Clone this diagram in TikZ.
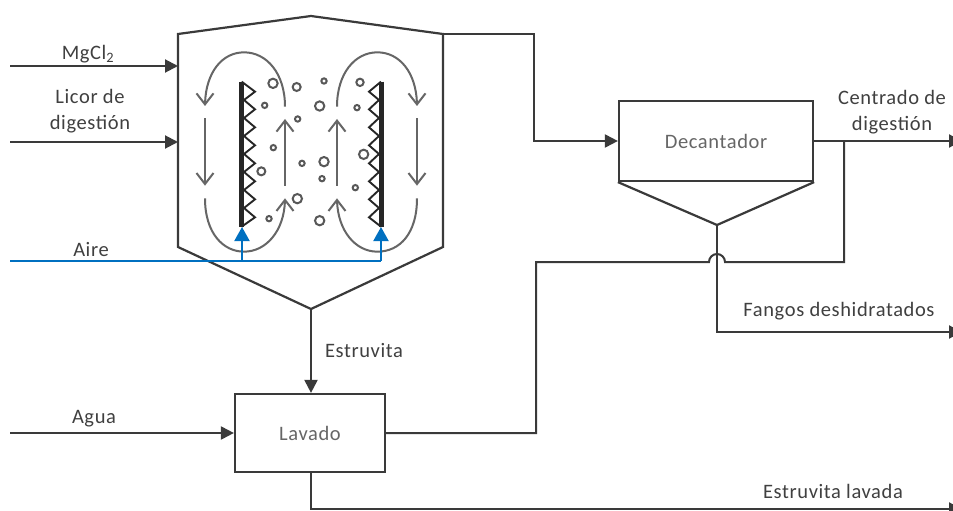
\documentclass[tikz,border=0pt]{standalone}
\usepackage{fontspec}
\setmainfont{Carlito}[LetterSpace=3]
\usetikzlibrary{arrows.meta,calc,bending}
\definecolor{ln}{HTML}{3A3A3A}
\definecolor{gy}{HTML}{666666}
\definecolor{tx}{HTML}{404040}
\definecolor{tb}{HTML}{666666}
\definecolor{bl}{HTML}{0070C0}
\tikzset{
  flow/.style={draw=ln,line width=2pt,-{Triangle[length=13pt,width=13pt,fill=ln]}},
  pipe/.style={draw=ln,line width=2pt},
  air/.style={draw=bl,line width=2pt},
  airflow/.style={air,-{Triangle[length=14pt,width=15pt,fill=bl]}},
  vessel/.style={draw=ln,line width=2.2pt,line join=miter},
  unitbox/.style={draw=ln,line width=2.2pt,minimum width=0pt,inner sep=0pt,rectangle,text=tb,font=\fontsize{20.5}{24}\selectfont},
  lbl/.style={text=tx,inner sep=0pt,align=center,font=\fontsize{20.5}{25}\selectfont},
  lbltall/.style={lbl,font=\fontsize{20.5}{26.5}\selectfont},
  loop/.style={draw=gy,line width=2pt,-{Straight Barb[length=11pt,width=17pt,line width=2pt,flex=0]}},
  bub/.style={draw=ln!85,line width=2pt,fill=none},
  plate/.style={draw=black!85,line width=5pt},
  zig/.style={draw=black!85,line width=1.9pt,line join=miter},
}
\begin{document}
\begin{tikzpicture}[x=1pt,y=-1pt]
\useasboundingbox (0,0) rectangle (953,511);
\clip (0,0) rectangle (953,511);
\fill[white] (0,0) rectangle (953,511);
% anchors
\coordinate (mgIn) at (10,66);   \coordinate (mgOut) at (178,66);
\coordinate (liIn) at (10,142);  \coordinate (liOut) at (178,142);
\coordinate (aiIn) at (10,261);  \coordinate (aiL) at (242,261); \coordinate (aiR) at (381,261);
\coordinate (plL) at (242,227);  \coordinate (plR) at (381,227);
\coordinate (reTop) at (443,34); \coordinate (reBot) at (311,309);
\coordinate (agIn) at (10,433);
\coordinate (ceOut) at (962,141); \coordinate (faOut) at (962,332); \coordinate (esOut) at (962,509);
\coordinate (brT) at (844,141);  \coordinate (brB) at (844,262);
\coordinate (jmpR) at (725,262); \coordinate (jmpL) at (709,262);
\coordinate (deBot) at (717,225);
% reactor
\draw[vessel] (178,34) -- (311,16) -- (443,34) -- (443,247) -- (reBot) -- (178,247) -- cycle;
% boxes
\node[unitbox,minimum width=194pt,minimum height=80pt] (dec) at (716,141) {Decantador};
\node[unitbox,minimum width=150pt,minimum height=78pt] (lav) at (310,433) {Lavado};
\draw[vessel] (dec.south west) -- (deBot) -- (dec.south east);
% connectors
\draw[flow] (mgIn) -- (mgOut);
\draw[flow] (liIn) -- (liOut);
\draw[flow] (reTop) -- (534,34) -- (534,141) -- (dec.west);
\draw[flow] (dec.east) -- (ceOut);
\draw[flow] (deBot) -- (717,332) -- (faOut);
\draw[pipe] (brT) -- (brB) -- (jmpR) arc[start angle=0,end angle=180,radius=8pt] -- (jmpL) -- (536,262) -- (536,433) -- (lav.east);
\draw[flow] (reBot) -- (lav.north -| reBot);
\draw[flow] (agIn) -- (lav.west);
\draw[flow] (lav.south -| reBot) -- (311,509) -- (esOut);
% internals in zoom units
\begin{scope}[shift={(170,10)},x=0.33333pt,y=-0.33333pt]
  \draw[plate] (215,215) -- (215,650);
  \draw[plate] (633,215) -- (633,650);
  \draw[zig] (215,215) -- (255,245) -- (222,270) -- (255,298) -- (222,324) -- (255,352) -- (222,378) -- (255,406) -- (222,432) -- (255,460) -- (222,486) -- (255,514) -- (222,540) -- (255,568) -- (222,594) -- (255,622) -- (215,650);
  \draw[zig] (633,215) -- (597,245) -- (627,270) -- (597,298) -- (627,324) -- (597,352) -- (627,378) -- (597,406) -- (627,432) -- (597,460) -- (627,486) -- (597,514) -- (627,540) -- (597,568) -- (627,594) -- (597,622) -- (633,650);
  \draw[loop] (345,290) .. controls (345,190) and (290,127) .. (222,127) .. controls (155,127) and (105,190) .. (105,288);
  \draw[loop] (105,325) -- (105,527);
  \draw[loop] (105,565) .. controls (105,670) and (160,725) .. (222,725) .. controls (290,725) and (345,660) .. (345,565);
  \draw[loop] (345,528) -- (345,327);
  \draw[loop] (501,290) .. controls (501,190) and (555,127) .. (622,127) .. controls (690,127) and (741,190) .. (741,288);
  \draw[loop] (741,325) -- (741,527);
  \draw[loop] (741,565) .. controls (741,670) and (690,725) .. (622,725) .. controls (555,725) and (501,660) .. (501,565);
  \draw[loop] (501,528) -- (501,327);
  \foreach \p/\q/\r in {309/220/14,380/231/12,284/286/8,383/327/8,462/213/8,449/288/14,570/217/11,561/293/8,310/413/8,396/460/8,462/455/14,456/506/8,274/484/12,581/433/14,556/533/8,382/566/14,297/626/8,449/632/14}
    \draw[bub] (\p,\q) circle[radius=\r*0.33333pt];
\end{scope}
% air
\draw[air] (aiIn) -- (aiR);
\draw[airflow] (aiL) -- (plL);
\draw[airflow] (aiR) -- (plR);
% labels
\node[lbl] (tMg) at (88,54) {MgCl\textsubscript{2}};
\node[lbltall] (tLi) at (90,111) {Licor de\\digestión};
\node[lbl] (tAi) at (91,250) {Aire};
\node[lbl] (tAg) at (94,419) {Agua};
\node[lbl] (tEs) at (364,351) {Estruvita};
\node[lbltall] (tCe) at (892,112) {Centrado de\\digestión};
\node[lbl] (tFa) at (839,311) {Fangos deshidratados};
\node[lbl] (tEl) at (833,491) {Estruvita lavada};
\end{tikzpicture}
\end{document}
